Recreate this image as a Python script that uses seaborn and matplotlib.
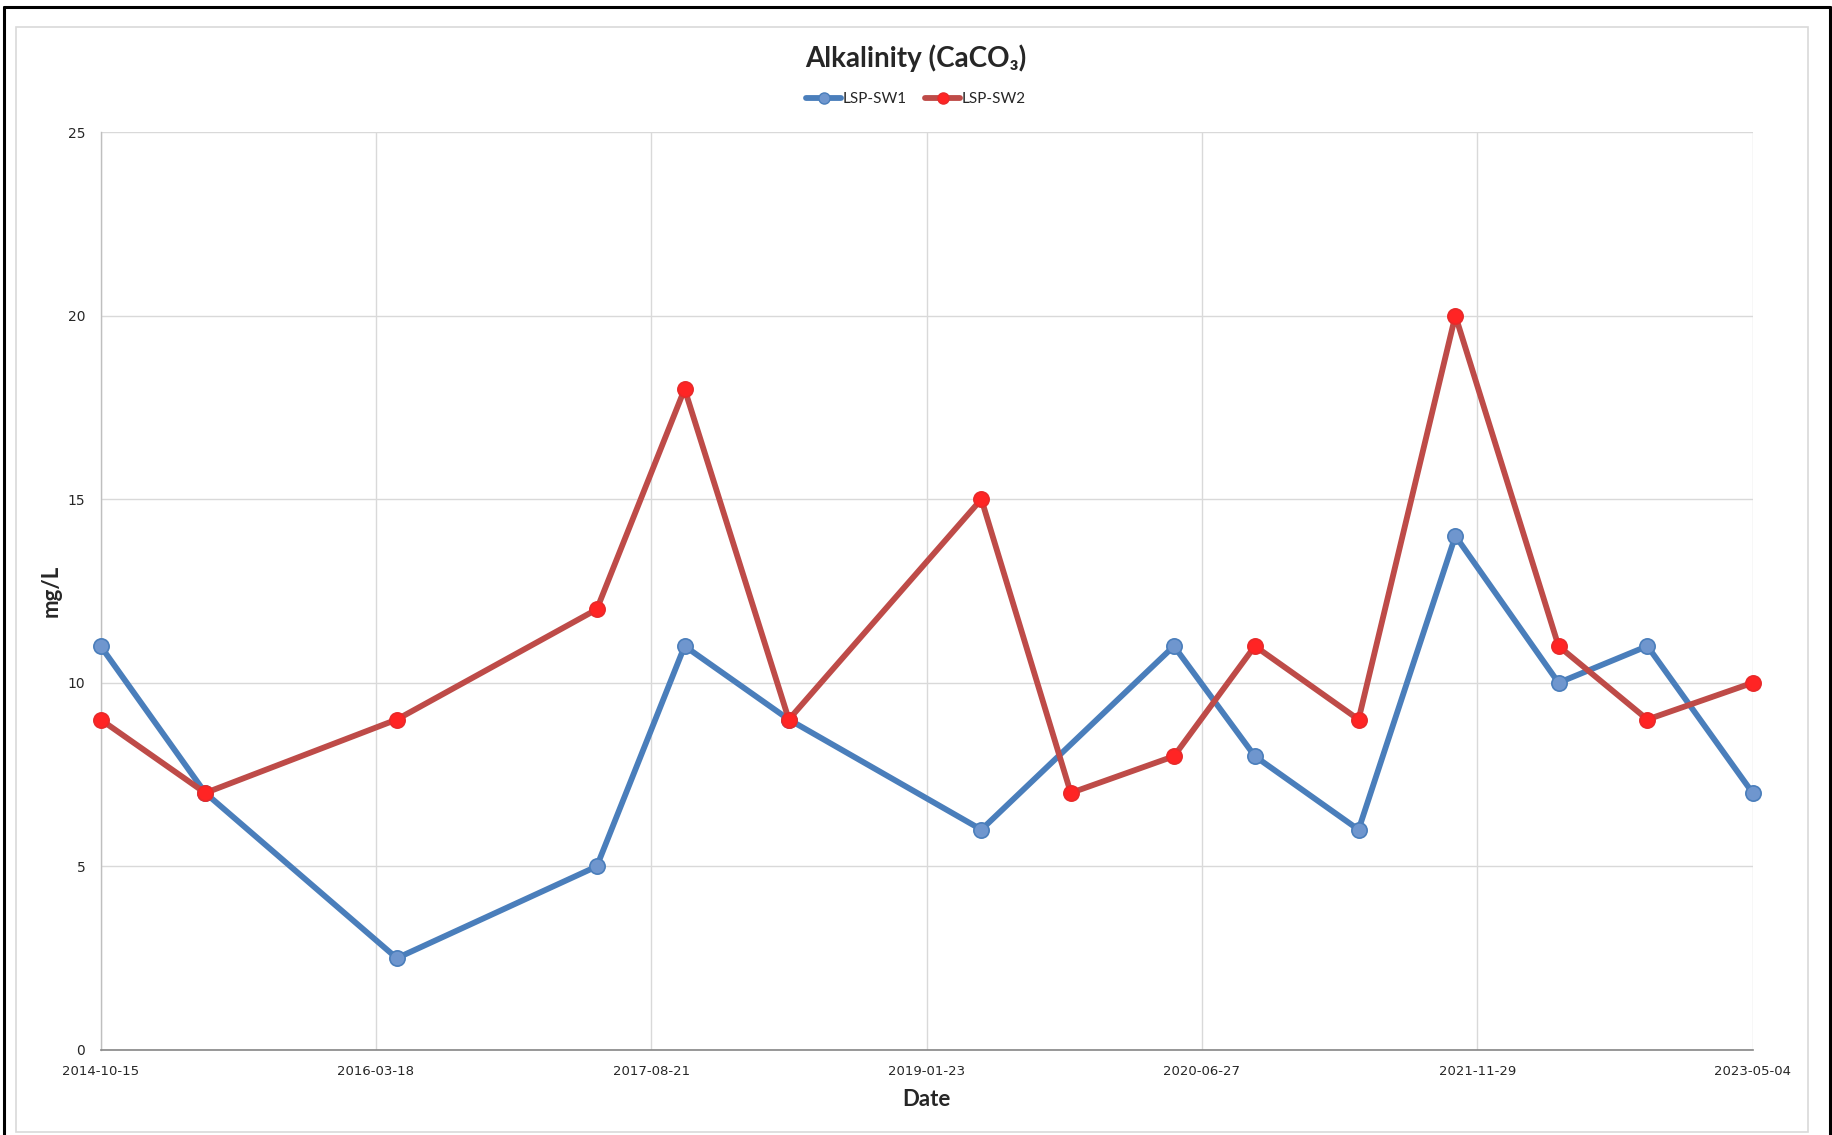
import matplotlib
matplotlib.use("Agg")
import matplotlib.pyplot as plt
import matplotlib.dates as mdates
from matplotlib.lines import Line2D
from matplotlib.patches import Rectangle
import numpy as np
import pandas as pd
import seaborn as sns

# Sampling dates and alkalinity results (mg/L as CaCO3)
sample_dates = ["2014-10-15", "2015-05-01", "2016-04-27", "2017-05-10", "2017-10-23",
                "2018-05-08", "2019-05-07", "2019-10-23", "2020-05-05", "2020-10-05",
                "2021-04-19", "2021-10-19", "2022-05-02", "2022-10-17", "2023-05-04"]
sw1_values = [11, 7, 2.5, 5, 11, 9, 6, None, 11, 8, 6, 14, 10, 11, 7]
sw2_values = [9, 7, 9, 12, 18, 9, 15, 7, 8, 11, 9, 20, 11, 9, 10]

x_tick_labels = ["2014-10-15", "2016-03-18", "2017-08-21", "2019-01-23",
                 "2020-06-27", "2021-11-29", "2023-05-04"]
y_ticks = [0, 5, 10, 15, 20, 25]

series_names = ["LSP-SW1", "LSP-SW2"]
line_colors = ["#4A7EBB", "#BE4B48"]
marker_faces = ["#6F96CE", "#FF2424"]
marker_edges = ["#4A7EBB", "#E82A2A"]

sns.set_style("white")
plt.rcParams["font.family"] = ["Lato", "DejaVu Sans"]

fig = plt.figure(figsize=(18.32, 11.35), dpi=100)
ax = fig.add_axes([0.0549, 0.0749, 0.9018, 0.8088])

dates = pd.to_datetime(sample_dates)
frames = []
for name, vals in zip(series_names, [sw1_values, sw2_values]):
    frames.append(pd.DataFrame({"Date": dates, "value": vals, "series": name}))
df = pd.concat(frames).dropna(subset=["value"])

for name, lc, mf, me in zip(series_names, line_colors, marker_faces, marker_edges):
    sub = df[df["series"] == name]
    sns.lineplot(data=sub, x="Date", y="value", ax=ax, color=lc, linewidth=4.2,
                 marker="o", markersize=11, markerfacecolor=mf, markeredgecolor=me,
                 markeredgewidth=1.2, zorder=3, clip_on=False, label=name,
                 legend=False)

# Axes limits and ticks
x0, x1 = mdates.date2num(dates.min()), mdates.date2num(dates.max())
ax.set_xlim(x0, x1)
ax.set_ylim(0, 25)
ax.set_xticks(np.linspace(x0, x1, len(x_tick_labels)))
ax.set_xticklabels(x_tick_labels, fontsize=9.5, family="DejaVu Sans")
ax.set_yticks(y_ticks)
ax.set_yticklabels([str(v) for v in y_ticks], fontsize=10, family="DejaVu Sans")

ax.grid(True, color="#D9D9D9", linewidth=1.0)
ax.set_axisbelow(True)
for side in ["top", "right"]:
    ax.spines[side].set_visible(False)
ax.spines["left"].set_color("#BFBFBF")
ax.spines["left"].set_linewidth(1.0)
ax.spines["bottom"].set_color("#868686")
ax.spines["bottom"].set_linewidth(1.2)
ax.tick_params(axis="x", direction="out", length=5, width=1, color="#868686", pad=6)
ax.tick_params(axis="y", direction="out", length=5, width=1, color="#BFBFBF", pad=6)

ax.set_xlabel("Date", fontsize=16, fontweight="bold")
ax.set_ylabel("mg/L", fontsize=16, fontweight="bold")
ax.xaxis.set_label_coords(0.5, -0.043)
ax.yaxis.set_label_coords(-0.0235, 0.5)

fig.text(0.5, 0.9485, "Alkalinity (CaCO\u2083)", ha="center", va="center",
         fontsize=20, fontweight="bold", family=["Lato", "DejaVu Sans"])

handles = [Line2D([0], [0], color=lc, linewidth=4.2, marker="o", markersize=8,
                  markerfacecolor=mf, markeredgecolor=me)
           for lc, mf, me in zip(line_colors, marker_faces, marker_edges)]
fig.legend(handles, series_names, loc="center", bbox_to_anchor=(0.5, 0.9125), ncol=2,
           frameon=False, fontsize=11, handlelength=2.3, handletextpad=0.1,
           columnspacing=1.2)

# Chart area outline and outer frame
fig.patches.append(Rectangle((16 / 1832, 3 / 1135), 1792 / 1832, 1105 / 1135,
                             transform=fig.transFigure, fill=False,
                             edgecolor="#D9D9D9", linewidth=1.2))
fig.add_artist(Line2D([4 / 1832, 4 / 1832], [0, 1 - 7 / 1135], color="black",
                      linewidth=2.2, transform=fig.transFigure))
fig.add_artist(Line2D([1830 / 1832, 1830 / 1832], [0, 1 - 7 / 1135], color="black",
                      linewidth=2.2, transform=fig.transFigure))
fig.add_artist(Line2D([4 / 1832, 1830 / 1832], [1 - 7 / 1135, 1 - 7 / 1135],
                      color="black", linewidth=2.2, transform=fig.transFigure))

fig.savefig("out.png", dpi=100, facecolor="white")
